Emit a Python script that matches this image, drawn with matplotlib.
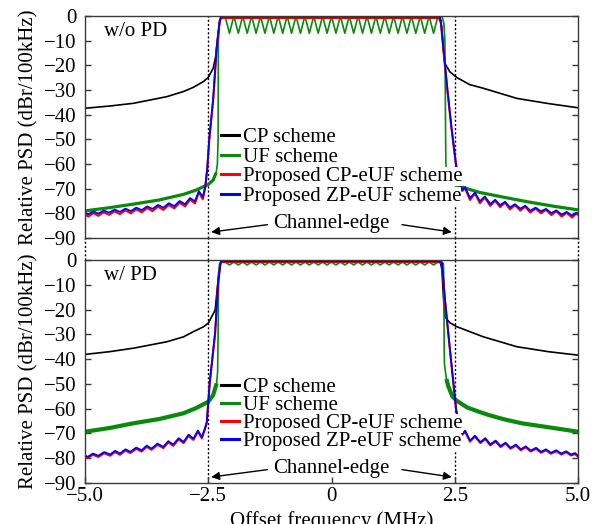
import matplotlib
matplotlib.use("Agg")
import matplotlib.pyplot as plt
from matplotlib.lines import Line2D

plt.rcParams["font.family"] = ["Liberation Serif", "DejaVu Serif"]
plt.rcParams["font.size"] = 15

# ---------------- data ----------------
# shared passband ripple positions of the UF scheme (MHz)
uf_pass_x = [-2.24, -2.16, -2.07, -1.98, -1.89, -1.80, -1.71, -1.62, -1.53, -1.44,
             -1.35, -1.26, -1.17, -1.08, -0.99, -0.90, -0.81, -0.72, -0.63, -0.54,
             -0.45, -0.36, -0.27, -0.18, -0.09, 0.00, 0.09, 0.18, 0.27, 0.36,
             0.45, 0.54, 0.63, 0.72, 0.81, 0.90, 0.99, 1.08, 1.17, 1.26,
             1.35, 1.44, 1.53, 1.62, 1.71, 1.80, 1.89, 1.98, 2.07, 2.16, 2.24]

# ---- top panel (w/o PD) ----
top_cp_x = [-5.0, -4.5, -4.02, -3.34, -3.0, -2.8, -2.6, -2.5, -2.4, -2.35, -2.3, -2.25, -2.22,
            2.2, 2.22, 2.24, 2.27, 2.3, 2.4, 2.54, 2.8, 3.08, 3.76, 4.4, 5.0]
top_cp_y = [-37.4, -36.5, -35.4, -32.7, -30.6, -28.9, -26.6, -24.9, -21.2, -16.5, -7.0, -0.9, 0.0,
            0.0, -2.0, -5.7, -13.8, -19.2, -22.6, -24.9, -27.8, -29.3, -33.4, -35.5, -37.2]

top_uf_left_x = [-5.0, -4.5, -4.0, -3.5, -3.0, -2.75, -2.5, -2.4, -2.34]
top_uf_left_y = [-79.0, -77.7, -76.2, -74.6, -72.3, -70.6, -68.3, -66.5, -63.5]
top_uf_pass_y = [0, 0, -7, 0, -7, 0, -7, 0, -7, 0,
                 -7, 0, -7, 0, -7, 0, -7, 0, -7, 0,
                 -7, 0, -7, 0, -7, 0, -7, 0, -7, 0,
                 -7, 0, -7, 0, -7, 0, -7, 0, -7, 0,
                 -7, 0, -7, 0, -7, 0, -7, 0, -7, 0, 0]
top_uf_edge_l_x = [-2.34, -2.315, -2.30, -2.295, -2.28, -2.24]
top_uf_edge_l_y = [-63.5, -60.0, -50.0, -10.0, -3.0, 0.0]
top_uf_edge_r_x = [2.24, 2.28, 2.30, 2.315, 2.32, 2.34]
top_uf_edge_r_y = [0.0, -3.0, -10.0, -50.0, -60.0, -63.5]
top_uf_right_x = [2.34, 2.4, 2.5, 2.75, 3.0, 3.5, 4.0, 4.5, 5.0]
top_uf_right_y = [-63.5, -66.5, -68.3, -70.0, -71.5, -73.5, -75.4, -77.1, -78.6]

top_cp_euf_x = [-5.00, -4.93, -4.83, -4.73, -4.62, -4.51, -4.40, -4.29, -4.18, -4.07,
                -3.96, -3.85, -3.74, -3.63, -3.52, -3.41, -3.30, -3.19, -3.08, -2.97,
                -2.87, -2.77, -2.69, -2.61, -2.56, -2.52, -2.48, -2.40, -2.33, -2.27,
                -2.24, 2.18, 2.22, 2.27, 2.35, 2.43, 2.52, 2.58, 2.65,
                2.71, 2.81, 2.91, 3.01, 3.11, 3.22, 3.32, 3.42, 3.52, 3.62,
                3.72, 3.83, 3.93, 4.03, 4.14, 4.25, 4.35, 4.46, 4.56, 4.67,
                4.77, 4.88, 4.96, 5.00]
top_cp_euf_y = [-80.6, -81.3, -79.9, -81.0, -79.6, -80.6, -79.2, -80.3, -78.8, -80.0,
                -78.4, -79.6, -77.9, -79.1, -77.3, -78.6, -76.6, -78.0, -75.7, -77.2,
                -74.4, -76.0, -71.5, -74.3, -69.5, -62.0, -50.3, -34.0, -13.8, -2.5,
                -0.8, -0.8, -3.0, -13.8, -30.0, -45.0, -59.7, -67.0, -71.0,
                -69.9, -74.6, -72.0, -75.9, -73.6, -77.0, -74.9, -77.5, -75.7, -78.4,
                -76.7, -78.9, -77.3, -79.7, -78.1, -80.0, -78.6, -80.7, -79.2, -81.3,
                -79.8, -81.7, -80.2, -80.6]
top_zp_euf_y = [-79.8, -80.4, -79.2, -80.1, -78.9, -79.7, -78.5, -79.4, -78.1, -79.1,
                -77.7, -78.7, -77.2, -78.2, -76.6, -77.7, -75.9, -77.1, -75.0, -76.3,
                -73.8, -75.1, -71.0, -73.4, -69.0, -61.5, -50.0, -33.5, -13.0, -2.0,
                -0.3, -0.3, -2.5, -13.0, -29.5, -44.5, -59.2, -66.5, -70.5,
                -69.4, -73.8, -71.6, -75.1, -73.2, -76.2, -74.5, -76.7, -75.3, -77.6,
                -76.3, -78.1, -76.9, -78.9, -77.7, -79.2, -78.2, -79.9, -78.8, -80.5,
                -79.4, -80.9, -79.8, -80.0]

# ---- bottom panel (w/ PD) ----
bot_cp_x = [-5.0, -4.5, -4.02, -3.34, -3.0, -2.8, -2.6, -2.5, -2.36, -2.32, -2.28, -2.25, -2.22,
            2.2, 2.24, 2.27, 2.3, 2.4, 2.54, 3.08, 3.76, 4.4, 5.0]
bot_cp_y = [-38.1, -37.0, -35.6, -33.0, -31.0, -28.9, -27.0, -25.5, -20.2, -12.1, -4.0, -1.1, 0.0,
            0.0, -4.0, -15.0, -22.9, -25.3, -26.9, -31.0, -35.0, -37.0, -38.4]

bot_uf_left_x = [-5.0, -4.5, -4.02, -3.5, -3.01, -2.75, -2.5, -2.4, -2.33]
bot_uf_left_y = [-69.3, -67.8, -65.9, -64.2, -61.9, -59.8, -57.2, -54.5, -49.8]
bot_uf_pass_y = [-0.8, -0.8, -2, -0.8, -2, -0.8, -2, -0.8, -2, -0.8,
                 -2, -0.8, -2, -0.8, -2, -0.8, -2, -0.8, -2, -0.8,
                 -2, -0.8, -2, -0.8, -2, -0.8, -2, -0.8, -2, -0.8,
                 -2, -0.8, -2, -0.8, -2, -0.8, -2, -0.8, -2, -0.8,
                 -2, -0.8, -2, -0.8, -2, -0.8, -2, -0.8, -2, -0.8, -0.8]
bot_uf_edge_l_x = [-2.33, -2.31, -2.30, -2.29, -2.27, -2.24]
bot_uf_edge_l_y = [-49.8, -45.0, -30.0, -5.0, -1.5, -0.8]
bot_uf_edge_r_x = [2.24, 2.27, 2.28, 2.285, 2.29, 2.33]
bot_uf_edge_r_y = [-0.8, -1.5, -10.0, -35.0, -41.7, -48.0]
bot_uf_right_x = [2.33, 2.37, 2.45, 2.54, 2.75, 3.0, 3.18, 3.5, 3.86, 4.5, 5.0]
bot_uf_right_y = [-48.0, -51.0, -55.0, -56.8, -59.5, -61.3, -62.5, -64.3, -65.9, -67.8, -69.3]

bot_cp_euf_x = [-5.00, -4.94, -4.84, -4.73, -4.61, -4.49, -4.39, -4.29, -4.18, -4.08,
                -3.96, -3.85, -3.75, -3.65, -3.53, -3.41, -3.31, -3.21, -3.10, -3.00,
                -2.90, -2.80, -2.71, -2.63, -2.57, -2.53, -2.47, -2.36, -2.30, -2.25,
                -2.22, 2.16, 2.24, 2.30, 2.40, 2.53, 2.60, 2.66,
                2.71, 2.81, 2.91, 3.02, 3.12, 3.22, 3.33, 3.43, 3.53, 3.63,
                3.74, 3.84, 3.94, 4.04, 4.15, 4.25, 4.35, 4.45, 4.56, 4.66,
                4.76, 4.86, 4.94, 5.00]
bot_cp_euf_y = [-79.5, -79.9, -78.6, -79.5, -78.0, -79.0, -77.5, -78.6, -76.9, -77.9,
                -76.2, -77.3, -75.4, -76.6, -74.6, -75.9, -73.6, -75.0, -72.4, -73.9,
                -71.0, -72.6, -69.3, -72.0, -68.5, -65.9, -49.8, -29.6, -9.4, -1.3,
                -0.8, -0.8, -1.3, -16.0, -36.0, -61.0, -68.0, -70.5,
                -69.3, -73.3, -71.3, -73.9, -72.3, -74.8, -73.3, -75.5, -74.1, -76.2,
                -74.9, -76.8, -75.6, -77.3, -76.2, -77.8, -76.8, -78.2, -77.2, -78.5,
                -77.6, -78.9, -78.3, -79.4]
bot_zp_euf_y = [-79.0, -79.4, -78.1, -79.0, -77.5, -78.5, -77.0, -78.1, -76.4, -77.4,
                -75.7, -76.8, -74.9, -76.1, -74.1, -75.4, -73.1, -74.5, -71.9, -73.4,
                -70.5, -72.1, -68.8, -71.5, -68.0, -65.4, -49.3, -29.1, -9.0, -1.0,
                -0.5, -0.5, -1.0, -15.5, -35.5, -60.5, -67.5, -70.0,
                -68.9, -72.9, -70.9, -73.5, -71.9, -74.4, -72.9, -75.1, -73.7, -75.8,
                -74.5, -76.4, -75.2, -76.9, -75.8, -77.4, -76.4, -77.8, -76.8, -78.1,
                -77.2, -78.5, -77.9, -79.0]

labels = ["CP scheme", "UF scheme", "Proposed CP-eUF scheme", "Proposed ZP-eUF scheme"]
x_ticks = [-5.0, -2.5, 0.0, 2.5, 5.0]
x_tick_labels = ["\u22125.0", "\u22122.5", "0", "2.5", "5.0"]
y_ticks = [-90, -80, -70, -60, -50, -40, -30, -20, -10, 0]
edge_x = [-2.5, 2.5]

CP_COLOR = "black"
UF_COLOR = "#0a8a0a"
CPE_COLOR = "#ff0000"
ZPE_COLOR = "#0000ff"
SPINE = "#3a3a3a"

W, H = 599, 524
fig = plt.figure(figsize=(W / 100, H / 100), dpi=100)
L, R = 85, 578
ax_top = fig.add_axes([L / W, 1 - 238 / H, (R - L) / W, 222 / H])
ax_bot = fig.add_axes([L / W, 1 - 483 / H, (R - L) / W, 223 / H])


def draw(ax, cp_x, cp_y, ufl_x, ufl_y, uf_pass, ufel_x, ufel_y, ufer_x, ufer_y,
         ufr_x, ufr_y, e_x, cpe_y, zpe_y, band_lw, title, legend_top, spacing):
    ax.plot(cp_x, cp_y, color=CP_COLOR, lw=1.2)
    core_x = ufel_x + uf_pass_x + ufer_x
    core_y = ufel_y + uf_pass + ufer_y
    ax.plot(core_x, core_y, color=UF_COLOR, lw=1.2)
    ax.plot(ufl_x, ufl_y, color=UF_COLOR, lw=band_lw, solid_capstyle="butt")
    ax.plot(ufr_x, ufr_y, color=UF_COLOR, lw=band_lw, solid_capstyle="butt")
    ax.plot(e_x, cpe_y, color=CPE_COLOR, lw=1.5)
    ax.plot(e_x, zpe_y, color=ZPE_COLOR, lw=1.3)

    for xe in edge_x:
        ax.axvline(xe, color="black", lw=1.0, ls=(0, (1.5, 1.5)), zorder=1)

    ax.set_xlim(-5, 5)
    ax.set_ylim(-90, 0)
    ax.set_yticks(y_ticks)
    ax.set_yticklabels(["\u2212%d" % -v if v < 0 else "0" for v in y_ticks])
    ax.set_xticks(x_ticks)
    ax.tick_params(direction="in", length=4, width=1, colors=SPINE, labelcolor="black",
                   right=True, pad=6)
    for sp in ax.spines.values():
        sp.set_color(SPINE)
        sp.set_linewidth(1.0)
    ax.set_ylabel("Relative PSD (dBr/100kHz)")
    ax.yaxis.set_label_coords(-0.095, 0.5)

    ax.text(-4.62, -6.3, title, ha="left", va="center")
    ax.text(0.0, -84.0, "Channel-edge", ha="center", va="center")
    ax.annotate("", xy=(-2.44, -87.6), xytext=(-1.3, -84.6),
                arrowprops=dict(arrowstyle="-|>", color="black", lw=1.0,
                                mutation_scale=12, shrinkA=0, shrinkB=0))
    ax.annotate("", xy=(2.44, -87.6), xytext=(1.43, -84.6),
                arrowprops=dict(arrowstyle="-|>", color="black", lw=1.0,
                                mutation_scale=12, shrinkA=0, shrinkB=0))

    handles = [Line2D([], [], color=c, lw=2.2) for c in (CP_COLOR, UF_COLOR, CPE_COLOR, ZPE_COLOR)]
    leg = ax.legend(handles, labels, loc="upper left", bbox_to_anchor=(0.276, legend_top),
                    frameon=False, handlelength=0.85, handletextpad=0.2,
                    labelspacing=spacing, borderpad=0, borderaxespad=0)
    for t in leg.get_texts():
        t.set_bbox(dict(facecolor="white", edgecolor="none", pad=0))


draw(ax_top, top_cp_x, top_cp_y, top_uf_left_x, top_uf_left_y, top_uf_pass_y,
     top_uf_edge_l_x, top_uf_edge_l_y, top_uf_edge_r_x, top_uf_edge_r_y,
     top_uf_right_x, top_uf_right_y, top_cp_euf_x, top_cp_euf_y, top_zp_euf_y,
     2.3, "w/o PD", 0.497, 0.0)
draw(ax_bot, bot_cp_x, bot_cp_y, bot_uf_left_x, bot_uf_left_y, bot_uf_pass_y,
     bot_uf_edge_l_x, bot_uf_edge_l_y, bot_uf_edge_r_x, bot_uf_edge_r_y,
     bot_uf_right_x, bot_uf_right_y, bot_cp_euf_x, bot_cp_euf_y, bot_zp_euf_y,
     3.0, "w/ PD", 0.473, -0.07)

ax_top.tick_params(axis="x", bottom=False, labelbottom=False)
ax_bot.set_xticklabels(x_tick_labels)
ax_bot.tick_params(axis="x", pad=3)
ax_bot.set_xlabel("Offset frequency (MHz)")
ax_bot.xaxis.set_label_coords(0.5, -0.127)

# dotted connectors in the gap between the panels
gap = 22 / 222
for xv in [-5.0, 5.0] + edge_x:
    ax_top.axvline(xv, ymin=-gap, ymax=0, color="black", lw=1.0, ls=(0, (1.5, 1.5)),
                   clip_on=False)

fig.savefig("out.png", dpi=100)
